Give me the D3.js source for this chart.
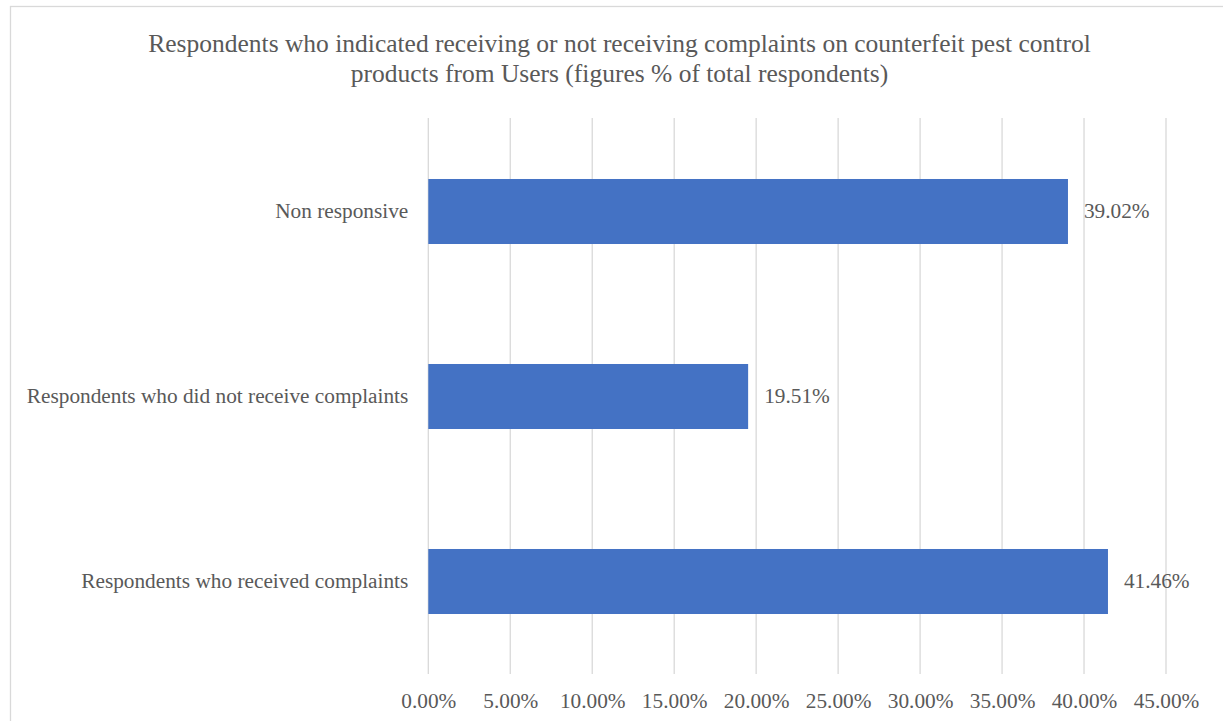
<!DOCTYPE html>
<html>
<head>
<meta charset="utf-8">
<script src="https://cdn.jsdelivr.net/npm/d3@7"></script>
<style>
  html, body { margin: 0; padding: 0; background: #fff; }
  svg { display: block; }
</style>
</head>
<body>
<div id="chart"></div>
<script>
const categories = [
    'Non responsive',
    'Respondents who did not receive complaints',
    'Respondents who received complaints'
];
const values = [39.02, 19.51, 41.46];
const tickValues = [0, 5, 10, 15, 20, 25, 30, 35, 40, 45];
const titleLines = [
    'Respondents who indicated receiving or not receiving complaints on counterfeit pest control',
    'products from Users (figures % of total respondents)'
];

const W = 1223, H = 721;
const margin = {left: 428.3, right: 1223 - 1166, top: 119, bottom: 721 - 674};
const width = W - margin.left - margin.right,
      height = H - margin.top - margin.bottom;
const textColor = '#595959';
const fontFamily = '"Liberation Serif", "Times New Roman", serif';
const labelSize = '21.3px';

const root = d3.select('#chart')
    .append('svg')
    .attr('width', W)
    .attr('height', H);

// chart area outline
root.append('rect')
    .attr('x', 10.5)
    .attr('y', 6.5)
    .attr('width', 1219)
    .attr('height', 730)
    .attr('fill', '#fff')
    .attr('stroke', '#d9d9d9')
    .attr('stroke-width', 1.3);

root.append('g')
    .selectAll('text')
    .data(titleLines)
    .enter()
    .append('text')
    .attr('x', 619.5)
    .attr('y', (d, i) => 52 + i * 29.5)
    .attr('text-anchor', 'middle')
    .attr('fill', textColor)
    .attr('font-family', fontFamily)
    .attr('font-size', '25.5px')
    .text(d => d);

const svg = root.append('g')
    .attr('transform', 'translate(' + margin.left + ',' + margin.top + ')');

const x = d3.scaleLinear()
    .domain([0, 45])
    .range([0, width]);

const y = d3.scaleBand()
    .domain(categories)
    .range([0, height])
    .paddingInner(0.6486)
    .paddingOuter(0.6486 / 2);

// gridlines
svg.append('g')
    .selectAll('line')
    .data(tickValues)
    .enter()
    .append('line')
    .attr('x1', d => x(d))
    .attr('x2', d => x(d))
    .attr('y1', -1)
    .attr('y2', height)
    .attr('stroke', '#d9d9d9')
    .attr('stroke-width', 1.3);

const xAxis = d3.axisBottom(x)
    .tickValues(tickValues)
    .tickSize(0)
    .tickPadding(0)
    .tickFormat(d => d.toFixed(2) + '%');

const xg = svg.append('g')
    .attr('transform', 'translate(0,' + height + ')')
    .call(xAxis);
xg.select('.domain').remove();
xg.selectAll('text')
    .attr('y', 27)
    .attr('dy', '0.32em')
    .attr('fill', textColor)
    .attr('font-family', fontFamily)
    .attr('font-size', labelSize);

const yAxis = d3.axisLeft(y).tickSize(0).tickPadding(20);
const yg = svg.append('g').call(yAxis);
yg.select('.domain').remove();
yg.selectAll('text')
    .attr('fill', textColor)
    .attr('font-family', fontFamily)
    .attr('font-size', labelSize);

const data = categories.map((c, i) => ({label: c, value: values[i]}));

svg.selectAll('.bar-rect')
    .data(data)
    .enter()
    .append('rect')
    .attr('class', 'bar-rect')
    .attr('x', x(0))
    .attr('y', d => y(d.label))
    .attr('width', d => x(d.value) - x(0))
    .attr('height', y.bandwidth())
    .attr('fill', '#4472c4');

svg.selectAll('.bar-value')
    .data(data)
    .enter()
    .append('text')
    .attr('class', 'bar-value')
    .attr('x', d => x(d.value) + 16)
    .attr('y', d => y(d.label) + y.bandwidth() / 2)
    .attr('dy', '0.32em')
    .attr('fill', textColor)
    .attr('font-family', fontFamily)
    .attr('font-size', labelSize)
    .text(d => d.value.toFixed(2) + '%');
</script>
</body>
</html>
